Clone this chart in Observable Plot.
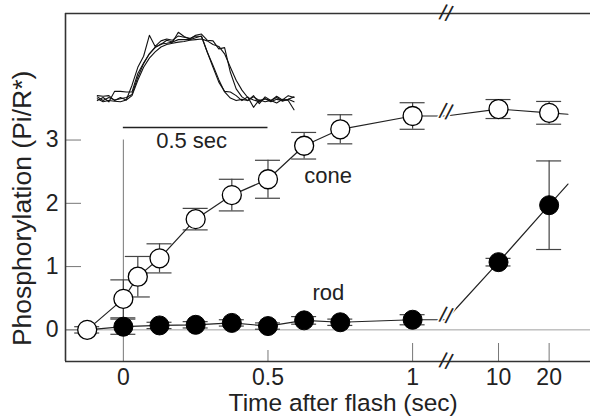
<!DOCTYPE html>
<html><head><meta charset="utf-8">
<script src="https://cdn.jsdelivr.net/npm/d3@7"></script>
<script src="https://cdn.jsdelivr.net/npm/@observablehq/plot@0.6"></script>
<style>body{margin:0;background:#fff}</style>
</head><body><div id="chart"></div>
<script>
// ---- data ----
const coneTime  = [-0.125, 0, 0.05, 0.125, 0.25, 0.375, 0.5, 0.625, 0.75, 1, 10, 20];
const coneValue = [0, 0.49, 0.84, 1.13, 1.75, 2.13, 2.38, 2.91, 3.17, 3.38, 3.49, 3.43];
const coneError = [0.05, 0.3, 0.32, 0.23, 0.17, 0.25, 0.3, 0.21, 0.23, 0.21, 0.15, 0.18];

const rodTime  = [0, 0.125, 0.25, 0.375, 0.5, 0.625, 0.75, 1, 10, 20];
const rodValue = [0.05, 0.07, 0.08, 0.11, 0.06, 0.15, 0.12, 0.16, 1.07, 1.97];
const rodError = [0.12, 0.05, 0.05, 0.05, 0.05, 0.06, 0.05, 0.08, 0.06, 0.7];

const xTickTime   = [0, 0.5, 1, 10, 20];
const xTickLabels = ["0", "0.5", "1", "10", "20"];
const yTicks      = [0, 1, 2, 3];
const scaleBarSec = 0.5;

// inset: normalised responses sampled in time (s)
const insetTime = [-0.09,-0.07,-0.05,-0.03,-0.01,0.01,0.03,0.05,0.07,0.09,0.11,0.13,0.15,0.17,0.19,0.21,0.23,0.25,0.27,0.29,0.31,0.33,0.35,0.37,0.39,0.41,0.43,0.45,0.47,0.49,0.51,0.53,0.55,0.57,0.59];
const insetTrace1 = [0.05,0.04,0.05,-0.03,0.02,-0.02,0.22,0.51,0.69,1.03,0.85,0.94,0.97,0.95,1.02,1.0,0.98,1.02,1.01,0.76,0.54,0.31,0.11,0.01,-0.03,-0.01,-0.03,0.03,-0.03,0,-0.05,-0.01,-0.03,-0.01,0.03];
const insetTrace2 = [-0.03,0.02,-0.05,0.12,0.12,0.11,0.11,0.41,0.58,0.73,0.84,0.88,0.95,0.92,1.08,1.01,0.97,1.03,1.05,0.95,0.94,0.81,0.83,0.43,0.16,0.03,-0.03,0.05,-0.08,0.03,-0.03,0.04,-0.02,0.05,0.02];
const insetTrace3 = [0.03,-0.03,0.02,-0.02,0,0.02,0.07,0.35,0.57,0.73,0.83,0.89,0.9,0.92,0.96,0.96,0.96,0.99,1.02,0.76,0.51,0.27,0.12,0.11,0.05,-0.03,0.03,-0.14,-0.02,-0.05,-0.03,-0.07,-0.01,-0.03,-0.18];
const insetTrace4 = [0,-0.05,-0.03,-0.04,-0.05,-0.02,0.05,0.3,0.51,0.66,0.76,0.84,0.88,0.9,0.92,0.93,0.95,0.96,0.97,0.94,0.88,0.85,0.73,0.51,0.3,0.14,0.02,-0.02,-0.05,0,-0.03,0.02,-0.04,-0.01,-0.05];
const insetTraces = [insetTrace1, insetTrace2, insetTrace3, insetTrace4];

// ---- layout ----
const W = 590, H = 420, ML = 65, MR = 0, MT = 13, MB = 59;
const X_DOMAIN = [-0.2, 1.615], Y_DOMAIN = [-0.5, 5];
const xPx = (W - ML - MR) / (X_DOMAIN[1] - X_DOMAIN[0]);
const yPx = (H - MT - MB) / (Y_DOMAIN[1] - Y_DOMAIN[0]);
const FONT = "Liberation Sans, Arial, Helvetica, sans-serif";

// broken time axis: linear up to 1 s, then compressed segment for 10, 20 s
const POS_10 = 1.297, SEC_AFTER = 0.0175, BREAK_POS = 1.115, TAIL_POS = 1.537;
const pos = t => t <= 1 ? t : POS_10 + (t - 10) * SEC_AFTER;

const series = (times, values, errors) => times.map((t, i) => ({t, x: pos(t), v: values[i], e: errors[i]}));
const cone = series(coneTime, coneValue, coneError);
const rod = series(rodTime, rodValue, rodError);

function linePath(pts, start) {
  const before = pts.filter(d => d.t <= 1), after = pts.filter(d => d.t >= 10);
  const last = before[before.length - 1], a = after[0], b = after[after.length - 1];
  const slope = (b.v - a.v) / (b.x - a.x);
  return [...(start ? [start] : []), ...before, {x: BREAK_POS, v: last.v}, ...after,
          {x: TAIL_POS, v: b.v + slope * (TAIL_POS - b.x)}];
}
const coneLine = linePath(cone);
const rodLine = linePath(rod, cone[0]);
const lineBreaks = [cone, rod].map(s => s.filter(d => d.t <= 1).pop().v);

const CAP = 12.5 / xPx;
const bars = [...cone, ...rod];

const INSET_BASE = 3.653, INSET_AMP = 0.973;
const insetLines = insetTraces.map(tr => Plot.line(insetTime.map((t, i) => ({x: t, y: INSET_BASE + INSET_AMP * tr[i]})),
  {x: "x", y: "y", stroke: "#111", strokeWidth: 1.1, strokeLinejoin: "round"}));

const chart = Plot.plot({
  width: W, height: H, marginLeft: ML, marginRight: MR, marginTop: MT, marginBottom: MB,
  x: {type: "linear", domain: X_DOMAIN, axis: null},
  y: {type: "linear", domain: Y_DOMAIN, axis: null},
  style: {fontFamily: FONT, background: "white", color: "#222", overflow: "visible"},
  marks: [
    // zero line and time-zero line
    Plot.ruleY([0], {stroke: "#a0a0a0", strokeWidth: 1}),
    Plot.ruleX([0], {y1: Y_DOMAIN[0], y2: 3.0, stroke: "#777", strokeWidth: 1}),
    // inward ticks
    Plot.ruleY(yTicks, {y: d => d, x1: X_DOMAIN[0], x2: X_DOMAIN[0] + 16 / xPx, stroke: "#777", strokeWidth: 1}),
    Plot.ruleX(xTickTime.filter(t => t !== 0), {x: pos, y1: Y_DOMAIN[0], y2: d => Y_DOMAIN[0] + (d === 0.5 ? 11 : 18) / yPx, stroke: "#777", strokeWidth: 1}),
    // error bars
    Plot.ruleX(bars, {x: "x", y1: d => d.v - d.e, y2: d => d.v + d.e, stroke: "#444", strokeWidth: 1.2}),
    Plot.ruleY(bars, {y: d => d.v + d.e, x1: d => d.x - CAP, x2: d => d.x + CAP, stroke: "#444", strokeWidth: 1.2}),
    Plot.ruleY(bars, {y: d => d.v - d.e, x1: d => d.x - CAP, x2: d => d.x + CAP, stroke: "#444", strokeWidth: 1.2}),
    // connecting lines
    Plot.line(rodLine, {x: "x", y: "v", stroke: "#222", strokeWidth: 1.2}),
    Plot.line(coneLine, {x: "x", y: "v", stroke: "#222", strokeWidth: 1.2}),
    // break marks on the data lines
    Plot.text(lineBreaks, {x: BREAK_POS, y: d => d, dy: -4, text: () => "//", fontSize: 22, rotate: 12,
      lineAnchor: "middle", fill: "#222", stroke: "white", strokeWidth: 3, fontFamily: FONT}),
    // points
    Plot.dot(rod, {x: "x", y: "v", r: 9.5, fill: "black", stroke: "black", strokeWidth: 1}),
    Plot.dot(cone, {x: "x", y: "v", r: 9.5, fill: "white", stroke: "black", strokeWidth: 1.3}),
    // inset traces and scale bar
    ...insetLines,
    Plot.ruleY([3.2], {x1: 0, x2: scaleBarSec, stroke: "#222", strokeWidth: 1.5}),
    Plot.text(["0.5 sec"], {x: 0.236, y: 2.98, fontSize: 22, lineAnchor: "middle", fill: "#222", fontFamily: FONT}),
    // series labels
    Plot.text(["cone"], {x: 0.708, y: 2.44, fontSize: 22, lineAnchor: "middle", fill: "#222", fontFamily: FONT}),
    Plot.text(["rod"], {x: 0.709, y: 0.577, fontSize: 22, lineAnchor: "middle", fill: "#222", fontFamily: FONT}),
    // tick labels
    Plot.text(yTicks, {x: X_DOMAIN[0], y: d => d, text: d => String(d), textAnchor: "end", dx: -7,
      lineAnchor: "middle", fontSize: 23, fill: "#222", fontFamily: FONT}),
    Plot.text(xTickTime, {x: pos, y: Y_DOMAIN[0], text: (d, i) => xTickLabels[i], dy: 7,
      lineAnchor: "top", fontSize: 23, fill: "#222", fontFamily: FONT}),
    // axis titles
    Plot.text(["Time after flash (sec)"], {x: 0.76, y: Y_DOMAIN[0], dy: 49, lineAnchor: "bottom",
      fontSize: 24.5, fill: "#222", fontFamily: FONT}),
    Plot.text(["Phosphorylation (Pi/R*)"], {x: X_DOMAIN[0], y: 1.92, dx: -35, rotate: -90, lineAnchor: "bottom",
      fontSize: 26.5, fill: "#222", fontFamily: FONT}),
    // frame (open at the cropped right side)
    Plot.ruleY([Y_DOMAIN[1], Y_DOMAIN[0]], {stroke: "#333", strokeWidth: 1.6}),
    Plot.ruleX([X_DOMAIN[0]], {stroke: "#333", strokeWidth: 1.6}),
    // axis break marks
    Plot.text([Y_DOMAIN[1], Y_DOMAIN[0]], {x: BREAK_POS, y: d => d, text: () => "//", fontSize: 22, rotate: 12,
      lineAnchor: "middle", fill: "#222", fontFamily: FONT})
  ]
});
document.getElementById("chart").appendChild(chart);
</script></body></html>
